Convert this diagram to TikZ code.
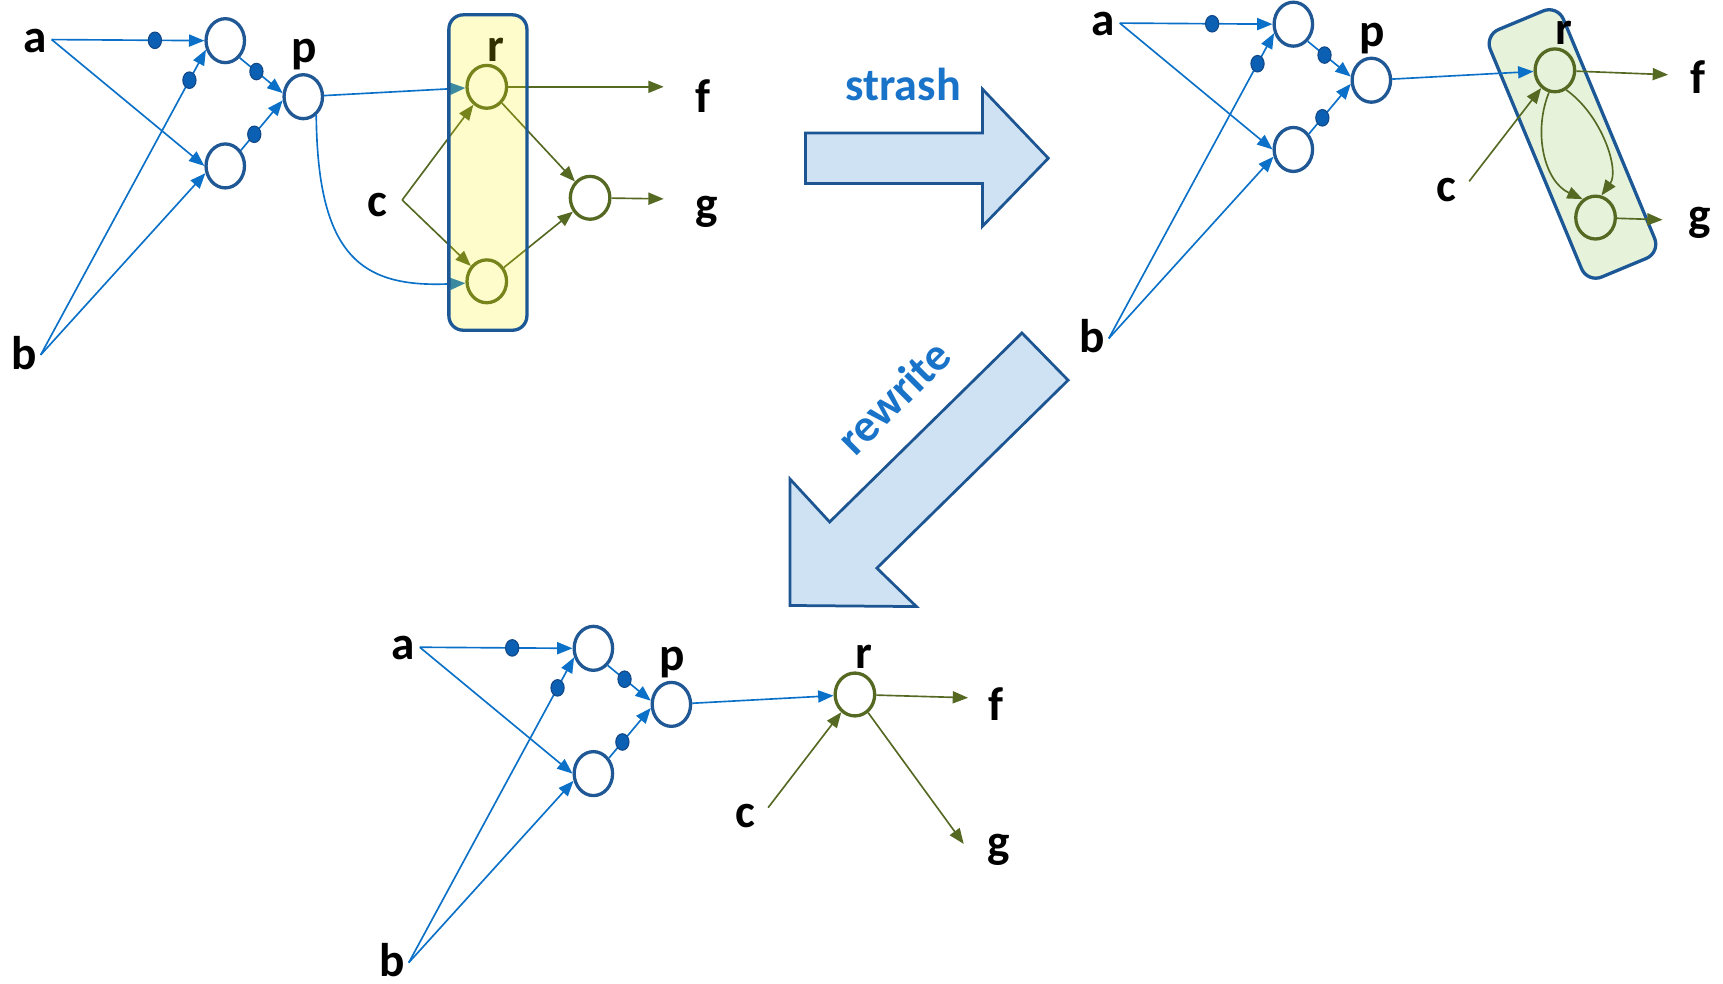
\documentclass[tikz,border=0pt]{standalone}
\usepackage{fontspec}
\setmainfont{Carlito}
\usetikzlibrary{arrows.meta,shapes.geometric}
\definecolor{lineblue}{RGB}{10,112,200}
\definecolor{gateblue}{RGB}{31,88,148}
\definecolor{dotfill}{RGB}{12,96,180}
\definecolor{dotedge}{RGB}{18,72,135}
\definecolor{oliveg}{RGB}{85,105,35}
\definecolor{boxedge}{RGB}{28,88,150}
\definecolor{greenfill}{RGB}{230,242,218}
\definecolor{arrfill}{RGB}{207,226,243}
\definecolor{arredge}{RGB}{28,85,145}
\definecolor{txtblue}{RGB}{25,115,200}
\newcommand\leftpart[1]{%
  \node[gate] (G1) at (205,37) {};
  \node[gate] (G2) at (205,151) {};
  \node[gate] (P) at (276,88) {};
  \node[lbl] (la) at (32,37) {a};
  \node[lbl] (lb) at (22,321) {b};
  \node[lbl] (lp) at (277,50) {p};
  \coordinate (a1) at (47,36);
  \coordinate (b1) at (37,323);
  \draw[bl] (a1) -- node[dot,pos=#1]{} (G1.180);
  \draw[bl] (a1) -- (G2.180);
  \draw[bl] (b1) -- node[dot,pos=0.90]{} (G1.205);
  \draw[bl] (b1) -- (G2.200);
  \draw[bl] (G1.-50) -- node[dot,pos=0.39]{} (P.170);
  \draw[bl] (G2.45) -- node[dot,pos=0.32]{} (P.190);
}
\begin{document}
\begin{tikzpicture}[x=1pt,y=-1pt,
  gate/.style={ellipse,draw=gateblue,line width=3pt,minimum width=35pt,minimum height=40pt,inner sep=0pt},
  ogate/.style={ellipse,draw=oliveg,line width=3pt,minimum width=36pt,minimum height=39pt,inner sep=0pt},
  dot/.style={ellipse,fill=dotfill,draw=dotedge,line width=1pt,minimum width=12pt,minimum height=15pt,inner sep=0pt},
  lbl/.style={font=\fontsize{43}{50}\selectfont\bfseries,inner sep=0pt,text=black},
  txt/.style={font=\fontsize{42}{50}\selectfont\bfseries,inner sep=0pt,text=txtblue},
  bl/.style={draw=lineblue,line width=1.5pt,-{Triangle[length=14pt,width=11pt]}},
  ol/.style={draw=oliveg,line width=1.5pt,-{Triangle[length=14pt,width=11pt]}},
  arr/.style={draw=arredge,fill=arrfill,line width=2.5pt,line join=miter},
  boxst/.style={draw=boxedge,line width=3pt,inner sep=0pt}]
\useasboundingbox (0,0) rectangle (1568,895);

% green box (behind)
\node[boxst,fill=greenfill,rounded corners=14pt,minimum width=72pt,minimum height=244pt,rotate=22.6] (gbox) at (1431,131) {};

% ---------- panel 1 ----------
\begin{scope}[name prefix=A-]
  \leftpart{0.676}
  \node[ogate] (R) at (443,79) {};
  \node[ogate] (R2) at (443,256) {};
  \node[ogate] (O) at (537,180) {};
  \node[lbl] (lr) at (451,45) {r};
  \node[lbl] (lc) at (343,187) {c};
  \node[lbl] (lf) at (640,87) {f};
  \node[lbl] (lg) at (643,193) {g};
  \coordinate (c1) at (366,182);
  \coordinate (fe) at (604,79);
  \coordinate (ge) at (604,181);
  \draw[bl] (P) -- (R);
  \draw[bl] (P.305) .. controls (289,235) and (330,262) .. (R2.185);
  \draw[ol] (c1) -- (R);
  \draw[ol] (c1) -- (R2);
  \draw[ol] (R) -- (fe);
  \draw[ol] (R) -- (O);
  \draw[ol] (R2) -- (O);
  \draw[ol] (O) -- (ge);
  \node[boxst,fill=yellow,fill opacity=0.2,rounded corners=13pt,minimum width=71pt,minimum height=287pt] (ybox) at (444,157) {};
\end{scope}

% ---------- panel 2 ----------
\begin{scope}[shift={(972,-15)},name prefix=B-]
  \leftpart{0.605}
\end{scope}
\node[ogate] (B-R) at (1415,64) {};
\node[ogate] (B-O) at (1452,198) {};
\node[lbl] (B-lr) at (1423,30) {r};
\node[lbl] (B-lc) at (1316,173) {c};
\node[lbl] (B-lf) at (1545,70) {f};
\node[lbl] (B-lg) at (1547,203) {g};
\coordinate (B-c1) at (1337,165);
\coordinate (B-fe) at (1518,68);
\coordinate (B-ge) at (1513,200);
\draw[bl] (B-P) -- (B-R);
\draw[ol] (B-c1) -- (B-R);
\draw[ol] (B-R) -- (B-fe);
\draw[ol] (B-R.255) .. controls (1395,120) and (1405,165) .. (B-O.125);
\draw[ol] (B-R.300) .. controls (1458,105) and (1474,155) .. (B-O.75);
\draw[ol] (B-O) -- (B-ge);

% ---------- panel 3 ----------
\begin{scope}[shift={(335,553)},name prefix=C-]
  \leftpart{0.605}
\end{scope}
\node[ogate] (C-R) at (778,632) {};
\node[lbl] (C-lr) at (786,598) {r};
\node[lbl] (C-lc) at (678,743) {c};
\node[lbl] (C-lf) at (906,641) {f};
\node[lbl] (C-lg) at (909,773) {g};
\coordinate (C-c1) at (699,735);
\coordinate (C-fe) at (881,635);
\coordinate (C-ge) at (877,768);
\draw[bl] (C-P) -- (C-R);
\draw[ol] (C-c1) -- (C-R);
\draw[ol] (C-R) -- (C-fe);
\draw[ol] (C-R) -- (C-ge);

% ---------- block arrows ----------
\draw[arr] (733,121) -- (894,121) -- (894,81) -- (954,144) -- (894,206) -- (894,167) -- (733,167) -- cycle;
\node[txt] (strash) at (822,77) {strash};
\draw[arr] (930,303) -- (755,475) -- (719,436) -- (719,551) -- (834,552) -- (798,517) -- (972,346) -- cycle;
\node[txt,rotate=45] (rewrite) at (813,361) {rewrite};
\end{tikzpicture}
\end{document}
